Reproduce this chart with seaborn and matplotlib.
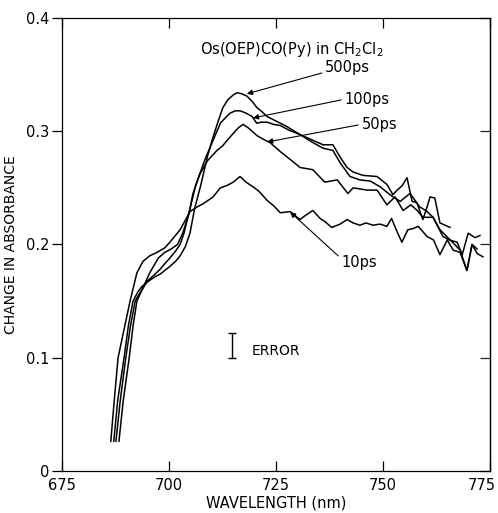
import numpy as np
import pandas as pd
import matplotlib
matplotlib.use("Agg")
import matplotlib.pyplot as plt
import seaborn as sns

# transient absorbance traces
wl_10 = [686.4, 687.2, 688.1, 690.9, 692.5, 693.9, 695.5, 697.2, 699.0, 700.2, 702.6, 704.9,
         706.5, 708.0, 710.3, 712.0, 713.5, 715.0, 716.6, 718.0, 719.6, 721.0, 722.9, 724.5,
         726.0, 728.3, 730.6, 732.0, 733.6, 735.3, 736.5, 738.0, 740.0, 741.6, 743.0, 744.6,
         746.0, 747.7, 749.3, 750.9, 752.0, 753.2, 754.4, 755.8, 757.0, 758.2, 760.3, 761.8,
         763.3, 765.0, 766.4, 768.0, 769.6, 770.8, 772.0]
abs_10 = [0.026, 0.062, 0.100, 0.150, 0.175, 0.185, 0.190, 0.193, 0.197, 0.202, 0.213, 0.229,
          0.233, 0.236, 0.242, 0.250, 0.252, 0.255, 0.260, 0.255, 0.251, 0.247, 0.239, 0.234,
          0.228, 0.229, 0.222, 0.226, 0.230, 0.223, 0.220, 0.215, 0.218, 0.222, 0.219, 0.217,
          0.219, 0.217, 0.218, 0.216, 0.223, 0.212, 0.202, 0.213, 0.214, 0.216, 0.207, 0.204,
          0.191, 0.204, 0.195, 0.193, 0.177, 0.200, 0.196]

wl_50 = [688.3, 689.3, 690.7, 691.6, 692.5, 693.7, 695.0, 696.5, 697.9, 699.0, 700.2, 701.5,
         702.6, 703.5, 704.9, 705.6, 707.2, 709.0, 711.2, 712.5, 713.6, 715.0, 716.2, 717.3,
         718.5, 720.6, 722.0, 723.6, 726.0, 729.0, 730.6, 733.6, 736.4, 739.3, 741.8, 743.0,
         746.3, 748.6, 750.9, 752.8, 754.7, 756.5, 758.0, 759.3, 761.7, 763.3, 765.7, 768.0,
         769.6, 770.8, 772.0, 773.4]
abs_50 = [0.026, 0.062, 0.100, 0.128, 0.150, 0.160, 0.168, 0.173, 0.178, 0.183, 0.188, 0.194,
          0.200, 0.210, 0.232, 0.245, 0.262, 0.274, 0.283, 0.287, 0.292, 0.298, 0.303, 0.306,
          0.303, 0.296, 0.293, 0.290, 0.282, 0.273, 0.268, 0.266, 0.255, 0.257, 0.245, 0.250,
          0.248, 0.248, 0.235, 0.242, 0.230, 0.235, 0.230, 0.224, 0.224, 0.213, 0.204, 0.195,
          0.177, 0.200, 0.192, 0.189]

wl_100 = [687.6, 688.6, 689.9, 691.0, 692.1, 693.0, 693.7, 695.5, 697.5, 699.0, 700.5, 702.0,
          703.2, 704.5, 706.2, 708.5, 710.3, 712.0, 713.2, 714.3, 715.5, 716.6, 718.0, 719.4,
          720.5, 721.5, 722.9, 724.5, 726.0, 728.0, 730.6, 733.6, 736.0, 738.3, 740.0, 742.3,
          744.6, 747.0, 749.3, 751.6, 754.0, 756.3, 758.6, 760.0, 761.7, 764.0, 765.5, 767.3,
          768.5, 769.9, 771.5, 772.7]
abs_100 = [0.026, 0.062, 0.100, 0.128, 0.150, 0.156, 0.160, 0.175, 0.188, 0.193, 0.196, 0.200,
           0.210, 0.225, 0.252, 0.276, 0.292, 0.307, 0.312, 0.316, 0.318, 0.318, 0.316, 0.313,
           0.307, 0.308, 0.308, 0.306, 0.305, 0.301, 0.297, 0.290, 0.285, 0.283, 0.272, 0.260,
           0.257, 0.256, 0.251, 0.244, 0.238, 0.245, 0.233, 0.230, 0.224, 0.207, 0.204, 0.202,
           0.191, 0.210, 0.206, 0.208]

wl_500 = [687.1, 688.0, 689.5, 690.5, 691.6, 692.7, 693.7, 695.0, 696.5, 698.0, 700.0, 701.5,
          702.6, 703.8, 704.9, 706.0, 707.4, 709.0, 710.3, 711.5, 712.6, 713.8, 715.0, 715.9,
          717.0, 718.2, 719.5, 720.5, 721.8, 722.9, 725.0, 727.6, 730.6, 733.6, 736.0, 738.3,
          740.0, 741.6, 743.0, 745.3, 748.6, 750.9, 752.3, 753.3, 754.5, 755.6, 756.8, 757.9,
          759.3, 760.2, 761.0, 762.1, 763.3, 765.7]
abs_500 = [0.026, 0.062, 0.100, 0.128, 0.150, 0.158, 0.163, 0.167, 0.171, 0.174, 0.180, 0.185,
           0.190, 0.198, 0.210, 0.232, 0.252, 0.278, 0.295, 0.309, 0.321, 0.328, 0.332, 0.334,
           0.333, 0.331, 0.326, 0.321, 0.317, 0.313, 0.309, 0.304, 0.297, 0.292, 0.288, 0.288,
           0.277, 0.268, 0.264, 0.261, 0.260, 0.253, 0.244, 0.248, 0.252, 0.259, 0.238, 0.237,
           0.222, 0.232, 0.242, 0.241, 0.219, 0.215]

delays = ["10ps", "50ps", "100ps", "500ps"]
# label text position, arrow tail, arrow tip (nm, absorbance)
label_xy = [(740.2, 0.1845), (745.1, 0.3055), (741.1, 0.328), (736.4, 0.356)]
tail_xy = [(739.5, 0.190), (744.2, 0.3055), (740.2, 0.3276), (735.7, 0.3514)]
tip_xy = [(728.3, 0.2287), (722.9, 0.2905), (719.6, 0.3117), (718.2, 0.333)]

x_ticks = [675, 700, 725, 750, 775]
y_ticks = [0, 0.1, 0.2, 0.3, 0.4]
y_ticklabels = ["0", "0.1", "0.2", "0.3", "0.4"]

error_x = [714.7]
error_y = [0.111]
error_half = [0.011]

frames = []
for name, w, a in zip(delays, [wl_10, wl_50, wl_100, wl_500],
                      [abs_10, abs_50, abs_100, abs_500]):
    frames.append(pd.DataFrame({"wavelength": w, "absorbance": a, "delay": name}))
df = pd.concat(frames, ignore_index=True)

sns.set_theme(style="ticks")
plt.rcParams["font.family"] = ["DejaVu Sans"]

fig = plt.figure(figsize=(4.98, 5.13), dpi=100)
ax = fig.add_axes([0.1245, 0.0819, 0.8595, 0.8831])

sns.lineplot(data=df, x="wavelength", y="absorbance", units="delay", estimator=None,
             sort=False, color="black", lw=1.1, ax=ax)

for name, lxy, txy, pxy in zip(delays, label_xy, tail_xy, tip_xy):
    ax.text(lxy[0], lxy[1], name, fontsize=10.5, ha="left", va="center", color="black")
    ax.annotate("", xy=pxy, xytext=txy,
                arrowprops=dict(arrowstyle="-|>", color="black", lw=0.8,
                                mutation_scale=8, shrinkA=0, shrinkB=0))

ax.text(707.2, 0.372, "Os(OEP)CO(Py) in CH$_2$Cl$_2$", fontsize=10.5,
        ha="left", va="center", color="black")

ax.errorbar(error_x, error_y, yerr=error_half, fmt="none", ecolor="black",
            elinewidth=1.0, capsize=3, capthick=1.0)
ax.text(719.4, 0.1055, "ERROR", fontsize=10, ha="left", va="center", color="black")

ax.set_xlim(675, 775)
ax.set_ylim(0, 0.4)
ax.set_xticks(x_ticks)
ax.set_yticks(y_ticks)
ax.set_yticklabels(y_ticklabels)
ax.tick_params(axis="x", direction="in", top=True, length=7, width=0.9,
               labelsize=10.5, pad=5, colors="black")
ax.tick_params(axis="y", direction="out", length=7, width=0.9,
               labelsize=10.5, pad=2, colors="black")
# keep the last x tick label inside the canvas
ax.get_xticklabels()[-1].set_horizontalalignment("right")
ax.get_xticklabels()[-1].set_x(775)
sec = ax.secondary_yaxis("right")
sec.set_yticks(y_ticks)
sec.tick_params(direction="in", length=7, width=0.9, labelright=False)
sec.spines["right"].set_linewidth(0.9)

for s in ax.spines.values():
    s.set_linewidth(0.9)
    s.set_color("black")

ax.set_xlabel("WAVELENGTH (nm)", fontsize=10.5, labelpad=2, color="black")
ax.set_ylabel("CHANGE IN ABSORBANCE", fontsize=10, labelpad=6, color="black")

fig.canvas.draw()
lab = ax.get_xticklabels()[-1]
lab.set_horizontalalignment("center")
from matplotlib.transforms import ScaledTranslation
lab.set_transform(lab.get_transform() + ScaledTranslation(-6 / 72, 0, fig.dpi_scale_trans))

fig.savefig("out.png", dpi=100)
